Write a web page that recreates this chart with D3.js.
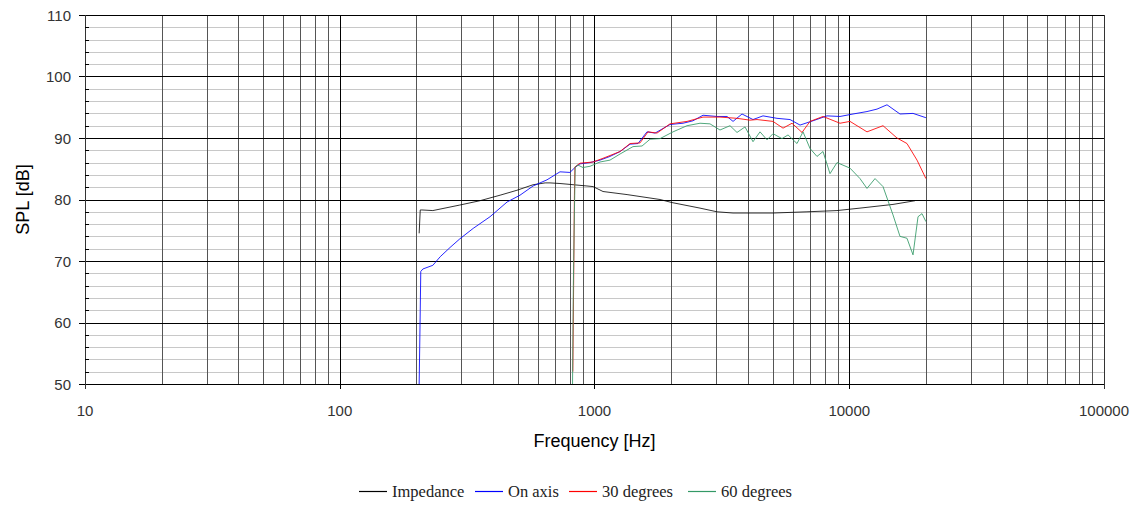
<!DOCTYPE html>
<html>
<head>
<meta charset="utf-8">
<script src="https://cdn.jsdelivr.net/npm/d3@7/dist/d3.min.js"></script>
<style>
  body { margin: 0; background: #fff; }
  svg { display: block; }
  .tick-label { font-family: Arial, "Liberation Sans", sans-serif; font-size: 15px; fill: #333; }
  .axis-title { font-family: Arial, "Liberation Sans", sans-serif; font-size: 18px; fill: #000; }
  .legend text { font-family: "Times New Roman", "Liberation Serif", serif; font-size: 16.5px; fill: #222; }
</style>
</head>
<body>
<div id="chart"></div>
<script>
// Datos de las curvas (frecuencia en Hz, nivel en dB)
const impFreq = [205, 207, 210, 232, 296, 355, 426, 496, 574, 640, 669, 732, 780, 877, 934, 987, 1080, 1342, 1808, 2015, 2595, 3027, 3498, 5020, 6823, 8950, 11020, 14850, 18120];
const impVal  = [74.5, 78.3, 78.3, 78.2, 79.1, 79.8, 80.7, 81.5, 82.4, 82.7, 82.7, 82.6, 82.5, 82.3, 82.2, 82.1, 81.3, 80.8, 80.0, 79.5, 78.6, 78.0, 77.8, 77.8, 78.0, 78.2, 78.6, 79.2, 79.8];

const onFreq = [205, 206, 207, 208, 212, 232, 248, 271, 296, 334, 389, 454, 510, 574, 651, 732, 801, 838, 877, 960, 1051, 1150, 1260, 1379, 1482, 1607, 1729, 1979, 2226, 2436, 2667, 3027, 3313, 3498, 3794, 4190, 4586, 5205, 5854, 6409, 7207, 8178, 9198, 10345, 11739, 12852, 14068, 15819, 17793, 20000];
const onVal  = [50, 56, 62, 68.3, 68.7, 69.3, 70.7, 72.2, 73.6, 75.3, 77.2, 79.6, 80.7, 82.2, 83.2, 84.5, 84.4, 85.2, 85.8, 86.0, 86.4, 87.0, 87.8, 89.0, 89.1, 91.0, 90.8, 92.2, 92.4, 92.8, 93.7, 93.5, 93.5, 92.7, 93.9, 93.0, 93.6, 93.2, 93.0, 92.1, 92.8, 93.6, 93.5, 93.9, 94.3, 94.7, 95.4, 93.9, 94.0, 93.3];

const d30Freq = [822, 828, 834, 838, 877, 987, 1080, 1260, 1379, 1509, 1622, 1760, 1979, 2308, 2667, 3109, 3626, 4077, 4345, 5020, 5496, 5962, 6526, 7014, 7889, 9198, 10068, 11739, 13567, 15396, 16851, 18451, 20000];
const d30Val  = [52, 66, 80.7, 85.3, 85.9, 86.1, 86.7, 87.8, 89.1, 89.2, 91.0, 90.8, 92.3, 92.7, 93.4, 93.4, 93.2, 92.9, 93.0, 92.7, 91.6, 92.4, 90.9, 92.7, 93.5, 92.4, 92.7, 91.0, 92.0, 90.0, 89.1, 86.4, 83.4];

const d60Freq = [820, 823, 826, 834, 840, 861, 901, 960, 1051, 1150, 1260, 1416, 1537, 1652, 1808, 2034, 2308, 2595, 2840, 3109, 3404, 3626, 3898, 4190, 4464, 4755, 5020, 5445, 5750, 6236, 6585, 7014, 7471, 7889, 8404, 8951, 10068, 11020, 11739, 12625, 13567, 14850, 15819, 16851, 17793, 18620, 19300, 20000];
const d60Val  = [50, 58, 66, 78, 85.3, 85.6, 85.2, 85.4, 86.1, 86.4, 87.4, 88.6, 88.7, 89.8, 89.9, 91.0, 92.0, 92.4, 92.3, 91.3, 92.0, 90.9, 91.8, 89.4, 91.0, 89.7, 90.7, 89.9, 90.5, 89.1, 91.0, 88.3, 87.0, 87.8, 84.2, 86.0, 85.1, 83.4, 81.8, 83.4, 82.1, 77.5, 74.0, 73.7, 71.0, 77.2, 77.7, 76.4];

const seriesNames  = ["Impedance", "On axis", "30 degrees", "60 degrees"];
const seriesColors = ["#000000", "#0000ff", "#ff0000", "#339966"];

const yTicks = [50, 60, 70, 80, 90, 100, 110];
const xTicks = [10, 100, 1000, 10000, 100000];

// Tamaño del lienzo
const width = 1140;
const height = 506;
const plot = { left: 85, right: 1104, top: 15, bottom: 384 };

const svg = d3.select("#chart").append("svg")
  .attr("width", width)
  .attr("height", height);

const x = d3.scaleLog().domain([10, 100000]).range([plot.left, plot.right]);
const y = d3.scaleLinear().domain([50, 110]).range([plot.bottom, plot.top]);

// Rejilla horizontal menor (cada 2 dB)
const minorY = d3.range(50, 110.1, 2).filter(v => v % 10 !== 0);
svg.append("g").selectAll("line")
  .data(minorY)
  .enter().append("line")
  .attr("x1", plot.left).attr("x2", plot.right)
  .attr("y1", d => Math.round(y(d)) + 0.5).attr("y2", d => Math.round(y(d)) + 0.5)
  .attr("stroke", "#c8c8c8");

// Rejilla vertical menor (2..9 de cada década)
const minorX = [];
[10, 100, 1000, 10000].forEach(dec => {
  for (let k = 2; k <= 9; k++) minorX.push(dec * k);
});
svg.append("g").selectAll("line")
  .data(minorX)
  .enter().append("line")
  .attr("x1", d => Math.round(x(d)) + 0.5).attr("x2", d => Math.round(x(d)) + 0.5)
  .attr("y1", plot.top).attr("y2", plot.bottom)
  .attr("stroke", "#555");

// Rejilla mayor
svg.append("g").selectAll("line")
  .data(yTicks)
  .enter().append("line")
  .attr("x1", plot.left).attr("x2", plot.right)
  .attr("y1", d => Math.round(y(d)) + 0.5).attr("y2", d => Math.round(y(d)) + 0.5)
  .attr("stroke", "#000");

svg.append("g").selectAll("line")
  .data(xTicks)
  .enter().append("line")
  .attr("x1", d => Math.round(x(d)) + 0.5).attr("x2", d => Math.round(x(d)) + 0.5)
  .attr("y1", plot.top).attr("y2", plot.bottom + 5)
  .attr("stroke", d => (d === 10 || d === 100000) ? "#333" : "#000");

// Marcas del eje Y
svg.append("g").selectAll("line")
  .data(yTicks)
  .enter().append("line")
  .attr("x1", plot.left - 6).attr("x2", plot.left)
  .attr("y1", d => Math.round(y(d)) + 0.5).attr("y2", d => Math.round(y(d)) + 0.5)
  .attr("stroke", "#000");

svg.append("g").selectAll("line")
  .data(minorY)
  .enter().append("line")
  .attr("x1", plot.left).attr("x2", plot.left + 4)
  .attr("y1", d => Math.round(y(d)) + 0.5).attr("y2", d => Math.round(y(d)) + 0.5)
  .attr("stroke", "#000");

// Etiquetas de los ejes
svg.append("g").selectAll("text")
  .data(yTicks)
  .enter().append("text")
  .attr("class", "tick-label")
  .attr("x", 71)
  .attr("y", d => y(d) + 5.5)
  .attr("text-anchor", "end")
  .text(d => d);

svg.append("g").selectAll("text")
  .data(xTicks)
  .enter().append("text")
  .attr("class", "tick-label")
  .attr("x", d => x(d))
  .attr("y", 416)
  .attr("text-anchor", "middle")
  .text(d => d);

svg.append("text")
  .attr("class", "axis-title")
  .attr("x", (plot.left + plot.right) / 2)
  .attr("y", 447)
  .attr("text-anchor", "middle")
  .text("Frequency [Hz]");

svg.append("text")
  .attr("class", "axis-title")
  .attr("transform", `translate(29, ${(plot.top + plot.bottom) / 2}) rotate(-90)`)
  .attr("text-anchor", "middle")
  .text("SPL [dB]");

// Curvas
const line = d3.line()
  .x(d => x(d[0]))
  .y(d => y(d[1]));

const series = [
  d3.zip(impFreq, impVal),
  d3.zip(onFreq, onVal),
  d3.zip(d30Freq, d30Val),
  d3.zip(d60Freq, d60Val)
];

// Orden de dibujo igual que la serie original
series.forEach((s, i) => {
  svg.append("path")
    .datum(s)
    .attr("fill", "none")
    .attr("stroke", seriesColors[i])
    .attr("stroke-width", 1)
    .attr("stroke-opacity", i === 0 ? 0.8 : 0.85)
    .attr("d", line);
});

// Leyenda
const legendX = [359, 475, 569, 688];
const legend = svg.append("g").attr("class", "legend");
seriesNames.forEach((name, i) => {
  const g = legend.append("g").attr("transform", `translate(${legendX[i]}, 491)`);
  g.append("line")
    .attr("x1", 0).attr("x2", 28)
    .attr("y1", 0.5).attr("y2", 0.5)
    .attr("stroke", seriesColors[i])
    .attr("stroke-width", 1.2);
  g.append("text")
    .attr("x", 33)
    .attr("y", 5.5)
    .text(name);
});
</script>
</body>
</html>
